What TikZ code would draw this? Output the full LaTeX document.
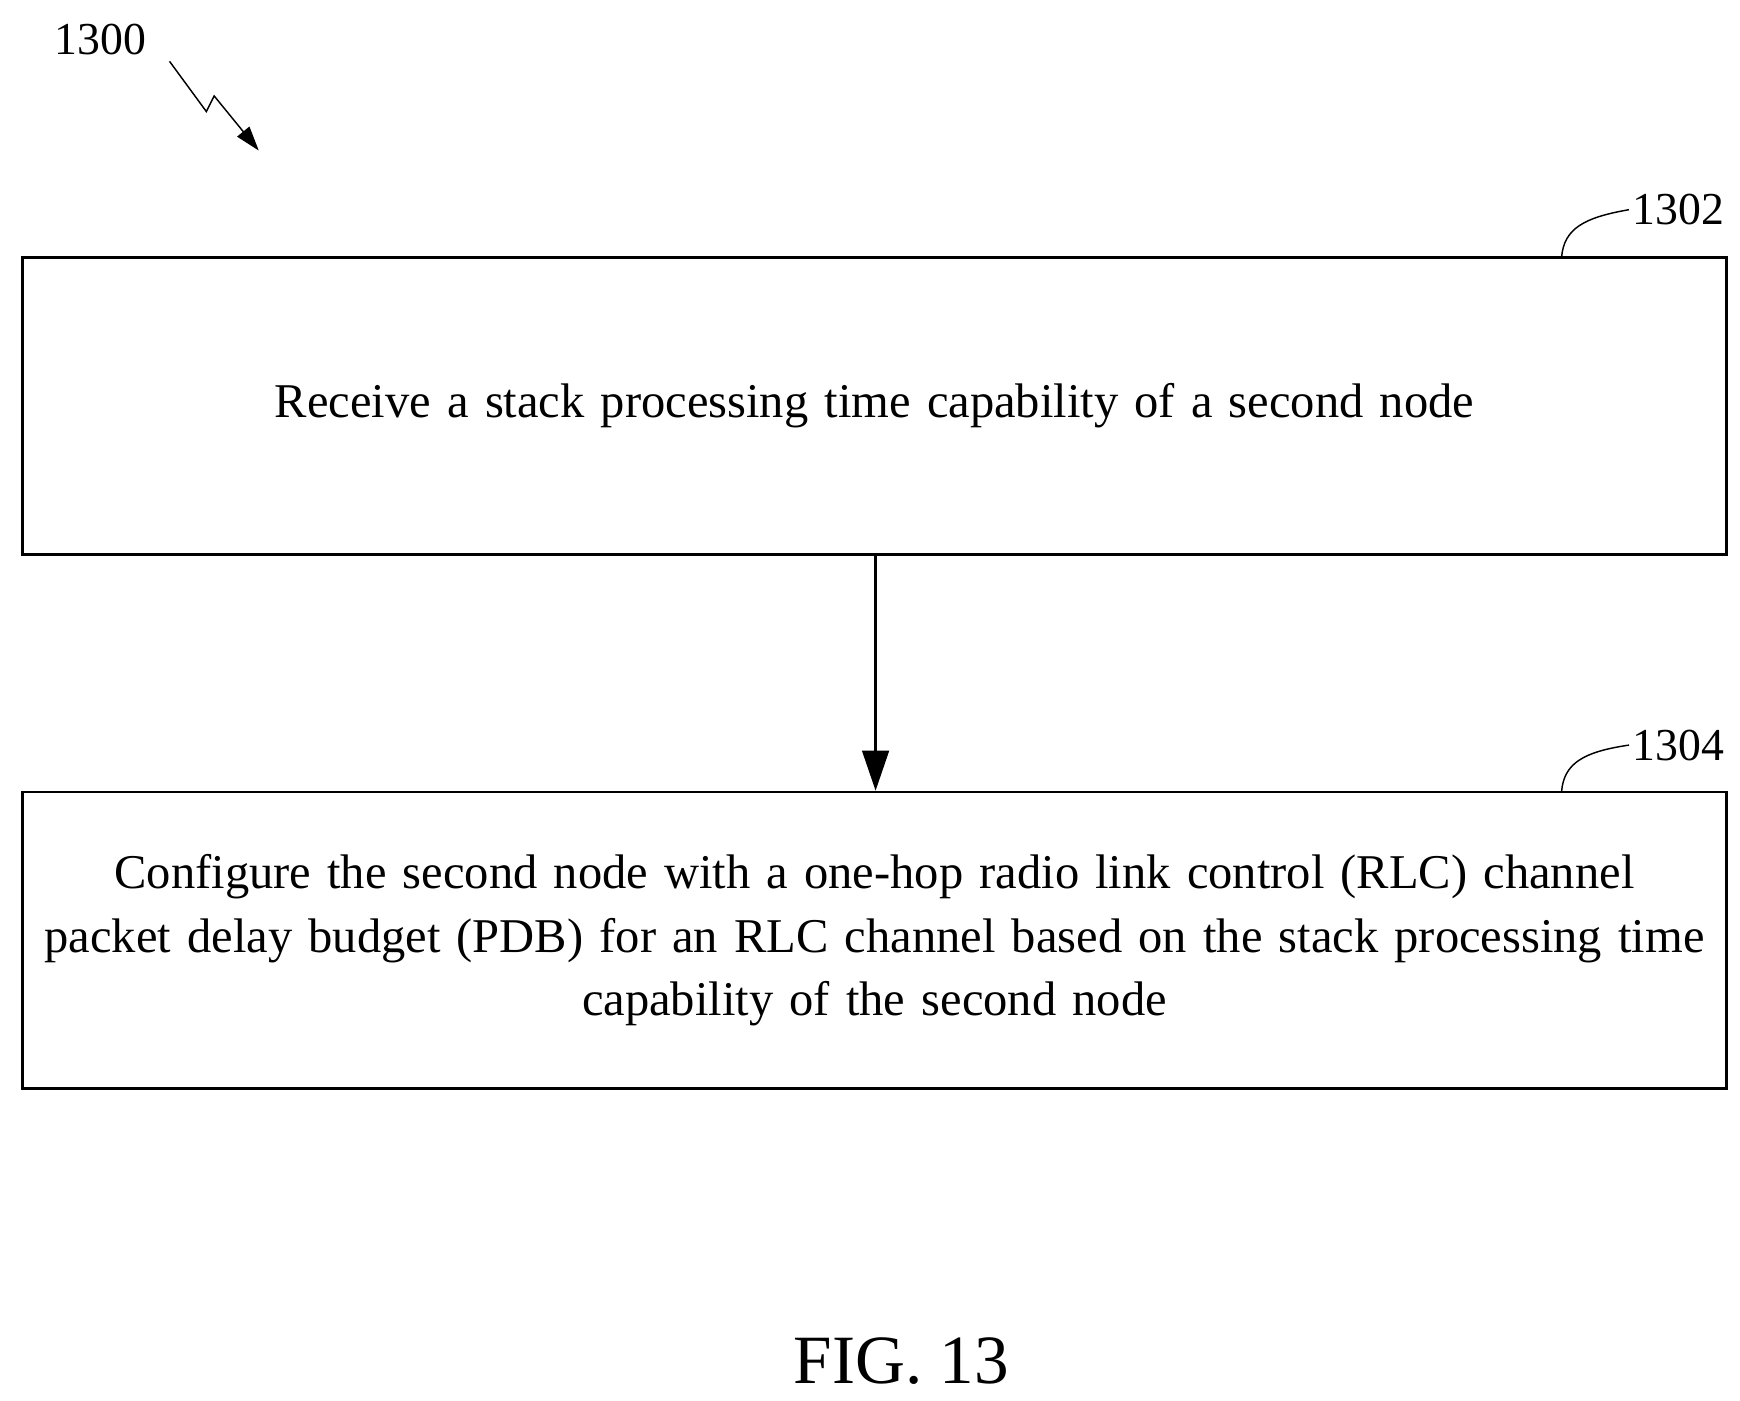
\documentclass[tikz,border=0pt]{standalone}
\usepackage{fontspec}
\setmainfont{Liberation Serif}
\usetikzlibrary{arrows.meta}
\begin{document}
\begin{tikzpicture}[x=1pt,y=-1pt,
  box/.style={draw,line width=2.2pt,minimum width=1528pt,minimum height=266pt,inner sep=0pt,align=center,font=\fontsize{43.5}{57}\selectfont,text width=1515pt},
  lbl/.style={font=\fontsize{41}{44}\selectfont},
  lead/.style={line width=1.3pt}]
\useasboundingbox (0,0) rectangle (1560,1256);
\node[box] (b1) at (784,364) {Receive a stack processing time capability of a second node};
\node[box] (b2) at (784,843) {Configure the second node with a one-hop radio link control (RLC) channel\\packet delay budget (PDB) for an RLC channel based on the stack processing time\\capability of the second node};
\draw[line width=2.2pt,-{Triangle[length=36pt,width=24pt]}] (b1.south -| 785,0) -- (b2.north -| 785,0);
\node[lbl] (l1) at (1505,188) {1302};
\node[lbl] (l2) at (1505,668) {1304};
\node[lbl] (l0) at (90,35) {1300};
\coordinate (c1) at (1400,231);
\coordinate (c2) at (1400,710);
\draw[lead] (c1) .. controls (1402,205) and (1420,195) .. (l1.west);
\draw[lead] (c2) .. controls (1402,684) and (1420,674) .. (l2.west);
\coordinate (z0) at (152,55);
\coordinate (z1) at (232,135);
\draw[lead,-{Triangle[length=22pt,width=14pt]}] (z0) -- (185,100) -- (192,86) -- (z1);
\node[font=\fontsize{62}{66}\selectfont] (fig) at (808,1220) {FIG. 13};
\end{tikzpicture}
\end{document}
